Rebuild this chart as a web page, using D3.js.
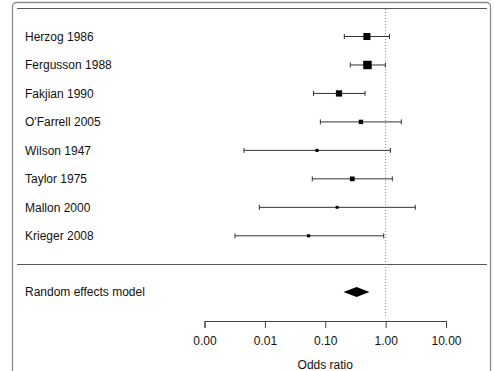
<!DOCTYPE html>
<html>
<head>
<meta charset="utf-8">
<script src="https://cdn.jsdelivr.net/npm/d3@7"></script>
<style>
  body { margin: 0; background: #fff; }
  svg text { font-family: "Liberation Sans", Arial, sans-serif; fill: #111; }
</style>
</head>
<body>
<div id="forest"></div>
<script>
// Study data (odds ratios)
const studies  = ["Herzog 1986", "Fergusson 1988", "Fakjian 1990", "O'Farrell 2005",
                  "Wilson 1947", "Taylor 1975", "Mallon 2000", "Krieger 2008"];
const orPoint  = [0.49, 0.50, 0.169, 0.39, 0.073, 0.28, 0.157, 0.053];
const orLower  = [0.207, 0.26, 0.064, 0.083, 0.0045, 0.061, 0.0081, 0.0032];
const orUpper  = [1.16, 0.99, 0.456, 1.82, 1.20, 1.29, 3.1, 0.93];
const weights  = [18, 26, 14, 7, 3.5, 8, 3, 3.5];

// Pooled estimate
const pooledLabel = "Random effects model";
const pooled = {est: 0.33, lo: 0.20, hi: 0.54};

const tickValues = [0.001, 0.01, 0.1, 1, 10];

(function() {
    const W = 494, H = 371;

    const svg = d3.select("#forest")
        .append("svg")
        .attr("width", W)
        .attr("height", H);

    // outer frame + rules
    svg.append("rect")
        .attr("x", 12.5).attr("y", 2.5)
        .attr("width", 478).attr("height", 400)
        .attr("rx", 4)
        .attr("fill", "none")
        .attr("stroke", "#8a8a8a")
        .attr("stroke-width", 1.3);

    [8, 264].forEach(yy => {
        svg.append("line")
            .attr("x1", 17).attr("x2", 487)
            .attr("y1", yy + 0.5).attr("y2", yy + 0.5)
            .attr("stroke", "#555")
            .attr("stroke-width", 1.2);
    });

    // scales
    const x = d3.scaleLog()
        .domain([0.001, 10])
        .range([204.5, 446]);

    const y = d3.scalePoint()
        .domain(studies)
        .range([36.5, 235.8]);

    const boxSize = d3.scaleSqrt()
        .domain([0, d3.max(weights)])
        .range([0, 8.5]);

    // null line at OR = 1
    svg.append("line")
        .attr("x1", x(1)).attr("x2", x(1))
        .attr("y1", 9).attr("y2", 318)
        .attr("stroke", "#888")
        .attr("stroke-width", 1)
        .attr("stroke-dasharray", "1,2");

    // study labels
    svg.selectAll(".study-label")
        .data(studies)
        .enter()
        .append("text")
        .attr("class", "study-label")
        .attr("x", 25)
        .attr("y", d => y(d))
        .attr("dy", "0.36em")
        .style("font-size", "12px")
        .text(d => d);

    const rows = studies.map((s, i) => ({
        name: s, est: orPoint[i], lo: orLower[i], hi: orUpper[i], w: weights[i]
    }));

    const g = svg.append("g").attr("class", "rows");

    // CI lines
    g.selectAll(".ci")
        .data(rows)
        .enter()
        .append("line")
        .attr("x1", d => x(d.lo))
        .attr("x2", d => x(d.hi))
        .attr("y1", d => y(d.name))
        .attr("y2", d => y(d.name))
        .attr("stroke", "#333")
        .attr("stroke-width", 1);

    // end caps
    ["lo", "hi"].forEach(k => {
        g.selectAll(".cap-" + k)
            .data(rows)
            .enter()
            .append("line")
            .attr("x1", d => x(d[k]))
            .attr("x2", d => x(d[k]))
            .attr("y1", d => y(d.name) - 2.5)
            .attr("y2", d => y(d.name) + 2.5)
            .attr("stroke", "#333")
            .attr("stroke-width", 1);
    });

    // weighted squares
    g.selectAll(".box")
        .data(rows)
        .enter()
        .append("rect")
        .attr("x", d => x(d.est) - boxSize(d.w) / 2)
        .attr("y", d => y(d.name) - boxSize(d.w) / 2)
        .attr("width", d => boxSize(d.w))
        .attr("height", d => boxSize(d.w))
        .attr("fill", "#000");

    // pooled estimate
    const yPool = 292;
    svg.append("text")
        .attr("x", 25)
        .attr("y", yPool)
        .attr("dy", "0.36em")
        .style("font-size", "12px")
        .text(pooledLabel);

    svg.append("path")
        .attr("d", `M${x(pooled.lo)},${yPool} L${x(pooled.est)},${yPool - 5} L${x(pooled.hi)},${yPool} L${x(pooled.est)},${yPool + 5} Z`)
        .attr("fill", "#000");

    // axis
    const axis = svg.append("g")
        .attr("transform", "translate(0,321)")
        .call(d3.axisBottom(x)
            .tickValues(tickValues)
            .tickFormat(d3.format(".2f"))
            .tickSizeOuter(0)
            .tickSize(7)
            .tickPadding(8));

    axis.select(".domain").attr("stroke", "#444");
    axis.selectAll(".tick line").attr("stroke", "#444");
    axis.selectAll(".tick text")
        .style("font-size", "12px")
        .style("font-family", "'Liberation Sans', Arial, sans-serif")
        .attr("fill", "#111");

    svg.append("text")
        .attr("x", (x(0.001) + x(10)) / 2)
        .attr("y", 365)
        .attr("text-anchor", "middle")
        .attr("dy", "0.36em")
        .style("font-size", "12px")
        .text("Odds ratio");
})();
</script>
</body>
</html>
